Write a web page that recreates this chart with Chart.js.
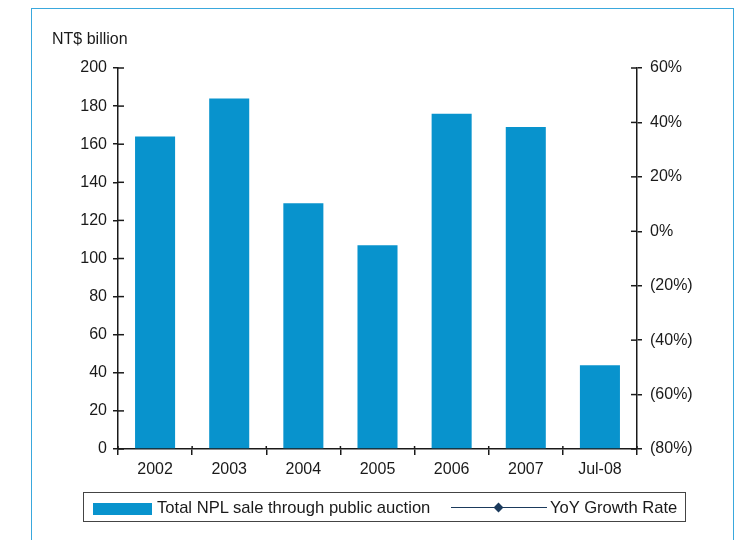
<!DOCTYPE html>
<html>
<head>
<meta charset="utf-8">
<script src="https://cdn.jsdelivr.net/npm/chart.js@4"></script>
<style>
  html, body { margin: 0; padding: 0; background: #fff; }
  body { width: 740px; height: 540px; position: relative; overflow: hidden; font-family: "Liberation Sans", Arial, sans-serif; color: #1a1a1a; }
  #frame { position: absolute; left: 31px; top: 8px; width: 701px; height: 600px; border: 1.5px solid #3aa8dd; border-bottom: none; }
  #chartBox { position: absolute; left: 0; top: 0; width: 740px; height: 540px; }
  #unit { position: absolute; left: 52px; top: 30px; font-size: 16px; }
  #legend { position: absolute; left: 83px; top: 492px; width: 603px; height: 30px; border: 1px solid #444; box-sizing: border-box; font-size: 16.6px; }
  #legend .sw { position: absolute; left: 9px; top: 10px; width: 59px; height: 12px; background: #0893cd; }
  #legend .t1 { position: absolute; left: 73px; top: 5px; white-space: nowrap; }
  #legend .ln { position: absolute; left: 367px; top: 14px; width: 96px; height: 0; border-top: 1.5px solid #1b3a5c; }
  #legend .dm { position: absolute; left: 411px; top: 11px; width: 7px; height: 7px; background: #1b3a5c; transform: rotate(45deg); }
  #legend .t2 { position: absolute; left: 466px; top: 5px; white-space: nowrap; }
</style>
</head>
<body>
<div id="frame"></div>
<div id="chartBox"><canvas id="nplChart"></canvas></div>
<div id="unit">NT$ billion</div>
<div id="legend">
  <div class="sw"></div><div class="t1">Total NPL sale through public auction</div>
  <div class="ln"></div><div class="dm"></div><div class="t2">YoY Growth Rate</div>
</div>
<script>
// Data
const categories = ['2002', '2003', '2004', '2005', '2006', '2007', 'Jul-08'];
const nplSales = [164, 184, 129, 107, 176, 169, 44];   // NT$ billion
const yoyGrowth = [null, null, null, null, null, null, null]; // line not plotted in the reference
const leftTicks = { min: 0, max: 200, step: 20 };
const rightTicks = { min: -80, max: 60, step: 20 };   // percent

const inkColor = '#1a1a1a';
const axisFont = { family: '"Liberation Sans", Arial, sans-serif', size: 16 };

// draws the short inward half of the tick marks (they cross the axis line)
const innerTicks = {
    id: 'innerTicks',
    afterDatasetsDraw(chart) {
        const ctx = chart.ctx;
        ctx.save();
        ctx.strokeStyle = inkColor;
        ctx.lineWidth = 1.5;
        const y = chart.scales.y, y1 = chart.scales.y1, x = chart.scales.x;
        y.ticks.forEach((t, i) => {
            const p = y.getPixelForTick(i);
            ctx.beginPath(); ctx.moveTo(y.right, p); ctx.lineTo(y.right + 6, p); ctx.stroke();
        });
        y1.ticks.forEach((t, i) => {
            const p = y1.getPixelForTick(i);
            ctx.beginPath(); ctx.moveTo(y1.left, p); ctx.lineTo(y1.left - 6, p); ctx.stroke();
        });
        const w = (x.right - x.left) / categories.length;
        for (let i = 0; i <= categories.length; i++) {
            const p = x.left + w * i;
            ctx.beginPath(); ctx.moveTo(p, x.top); ctx.lineTo(p, x.top - 3); ctx.stroke();
        }
        ctx.restore();
    }
};

new Chart(document.getElementById('nplChart').getContext('2d'), {
    type: 'bar',
    data: {
        labels: categories,
        datasets: [{
            type: 'bar',
            label: 'Total NPL sale through public auction',
            data: nplSales,
            backgroundColor: '#0893cd',
            borderWidth: 0,
            categoryPercentage: 1,
            barPercentage: 0.54,
            yAxisID: 'y'
        }, {
            type: 'line',
            label: 'YoY Growth Rate',
            data: yoyGrowth,
            borderColor: '#1b3a5c',
            backgroundColor: '#1b3a5c',
            pointStyle: 'rectRot',
            borderWidth: 1.5,
            yAxisID: 'y1'
        }]
    },
    options: {
        responsive: true,
        maintainAspectRatio: false,
        animation: false,
        layout: { padding: { top: 68, left: 0, right: 0, bottom: 0 } },
        plugins: {
            legend: { display: false },
            tooltip: { enabled: false }
        },
        scales: {
            x: {
                grid: { offset: true, drawOnChartArea: false, drawTicks: true, tickLength: 6, color: inkColor, lineWidth: 1.5 },
                border: { color: inkColor, width: 1.5 },
                ticks: { color: inkColor, font: axisFont, padding: 5, maxRotation: 0 },
                afterFit(scale) { scale.height = 91; }
            },
            y: {
                position: 'left',
                min: leftTicks.min,
                max: leftTicks.max,
                grid: { drawOnChartArea: false, drawTicks: true, tickLength: 5, color: inkColor, lineWidth: 1.5 },
                border: { color: inkColor, width: 1.5 },
                ticks: { stepSize: leftTicks.step, color: inkColor, font: axisFont, padding: 6 },
                afterFit(scale) { scale.width = 118; }
            },
            y1: {
                position: 'right',
                min: rightTicks.min,
                max: rightTicks.max,
                grid: { drawOnChartArea: false, drawTicks: true, tickLength: 5, color: inkColor, lineWidth: 1.5 },
                border: { color: inkColor, width: 1.5 },
                ticks: {
                    stepSize: rightTicks.step, color: inkColor, font: axisFont, padding: 8,
                    callback: v => v < 0 ? '(' + (-v) + '%)' : v + '%'
                },
                afterFit(scale) { scale.width = 103; }
            }
        }
    },
    plugins: [innerTicks]
});
</script>
</body>
</html>
